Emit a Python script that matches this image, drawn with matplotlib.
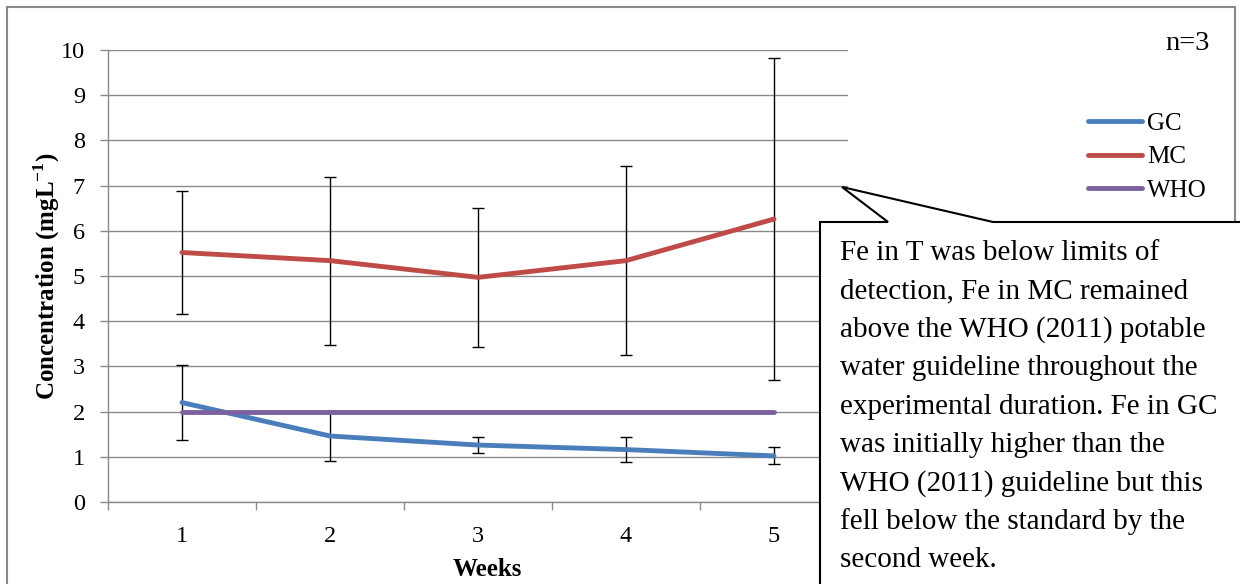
import matplotlib
matplotlib.use('Agg')
import matplotlib.pyplot as plt
import matplotlib.patches as mpatches
from matplotlib.ticker import FixedLocator

plt.rcParams['font.family'] = ['Liberation Serif', 'DejaVu Serif']
plt.rcParams['mathtext.fontset'] = 'custom'
plt.rcParams['mathtext.rm'] = 'Liberation Serif'
plt.rcParams['mathtext.bf'] = 'Liberation Serif:bold'

# Data
weeks = [1, 2, 3, 4, 5]
gc = [2.20, 1.46, 1.26, 1.16, 1.02]
gc_err = [0.82, 0.55, 0.18, 0.28, 0.19]
mc = [5.52, 5.34, 4.97, 5.34, 6.26]
mc_err = [1.36, 1.86, 1.54, 2.09, 3.57]
who = [2, 2, 2, 2, 2]

note_lines = [
    'Fe in T was below limits of',
    'detection, Fe in MC remained',
    'above the WHO (2011) potable',
    'water guideline throughout the',
    'experimental duration. Fe in GC',
    'was initially higher than the',
    'WHO (2011) guideline but this',
    'fell below the standard by the',
    'second week.',
]

GC_COLOR = '#4a7ebb'
MC_COLOR = '#be4b48'
WHO_COLOR = '#7d60a0'
AXIS_GRAY = '#8a8a8a'

W, H = 1240, 584
fig = plt.figure(figsize=(W / 100, H / 100), dpi=100)
fig.patch.set_facecolor('white')

ax = fig.add_axes([108 / W, 1 - 502 / H, 740 / W, 452 / H])
ax.set_xlim(0.5, 5.5)
ax.set_ylim(0, 10)

eb_kw = dict(fmt='none', ecolor='black', elinewidth=1.0, capsize=4.3, capthick=1.0)
ax.errorbar(weeks, gc, yerr=gc_err, zorder=3, **eb_kw)
ax.plot(weeks, gc, color=GC_COLOR, lw=3.5, solid_capstyle='round', label='GC', zorder=4)
ax.errorbar(weeks, mc, yerr=mc_err, zorder=3, **eb_kw)
ax.plot(weeks, mc, color=MC_COLOR, lw=3.5, solid_capstyle='round', label='MC', zorder=4)
ax.plot(weeks, who, color=WHO_COLOR, lw=3.5, solid_capstyle='round', label='WHO', zorder=5)

# axes styling (Excel-like)
ax.yaxis.set_major_locator(FixedLocator(range(0, 11)))
ax.grid(axis='y', color=AXIS_GRAY, lw=1.0)
ax.set_axisbelow(True)
for s in ['top', 'right']:
    ax.spines[s].set_visible(False)
for s in ['left', 'bottom']:
    ax.spines[s].set_color(AXIS_GRAY)
    ax.spines[s].set_linewidth(1.0)

ax.set_xticks(weeks)
ax.set_xticks([0.5, 1.5, 2.5, 3.5, 4.5, 5.5], minor=True)
ax.tick_params(axis='x', which='major', length=0, pad=17, labelsize=17.5)
ax.tick_params(axis='x', which='minor', length=5.5, width=1.0, color=AXIS_GRAY, direction='out')
ax.tick_params(axis='y', length=5.5, width=1.0, color=AXIS_GRAY, direction='out', pad=11, labelsize=17.5)

ax.set_xlabel('Weeks', fontsize=18, fontweight='bold')
ax.xaxis.set_label_coords(0.512, -0.150)
ax.xaxis.label.set_va('center')
ax.set_ylabel('Concentration (mgL$^{\\mathbf{-1}}$)', fontsize=18, fontweight='bold')
ax.yaxis.set_label_coords(-0.083, 0.5)
ax.yaxis.label.set_va('center')

ax.legend(loc='center left', bbox_to_anchor=(1088 / W, 1 - 157 / H),
          bbox_transform=fig.transFigure, frameon=False, fontsize=18,
          borderpad=0, borderaxespad=0, handlelength=2.15, handletextpad=0.2,
          labelspacing=0.45)

fig.text(1210 / W, 1 - 43 / H, 'n=3', ha='right', va='center', fontsize=20.5)

# outer chart border
border = mpatches.Rectangle((7 / W, -0.02), (1235 - 7) / W, 1.02 - 7 / H,
                            transform=fig.transFigure, fill=False,
                            edgecolor=AXIS_GRAY, lw=1.5, clip_on=False)
fig.patches.append(border)

# callout box with pointer
pts = [(820, 600), (820, 222), (888, 222), (842, 187), (993, 222), (1260, 222), (1260, 600)]
callout = mpatches.Polygon([(x / W, 1 - y / H) for x, y in pts], closed=True,
                           transform=fig.transFigure, facecolor='white',
                           edgecolor='black', lw=1.5, zorder=10, clip_on=False)
fig.patches.append(callout)

for i, line in enumerate(note_lines):
    fig.text(840 / W, 1 - (260 + i * 38.4) / H, line, ha='left', va='baseline',
             fontsize=21, zorder=11)

fig.savefig('out.png', dpi=100, facecolor='white')
